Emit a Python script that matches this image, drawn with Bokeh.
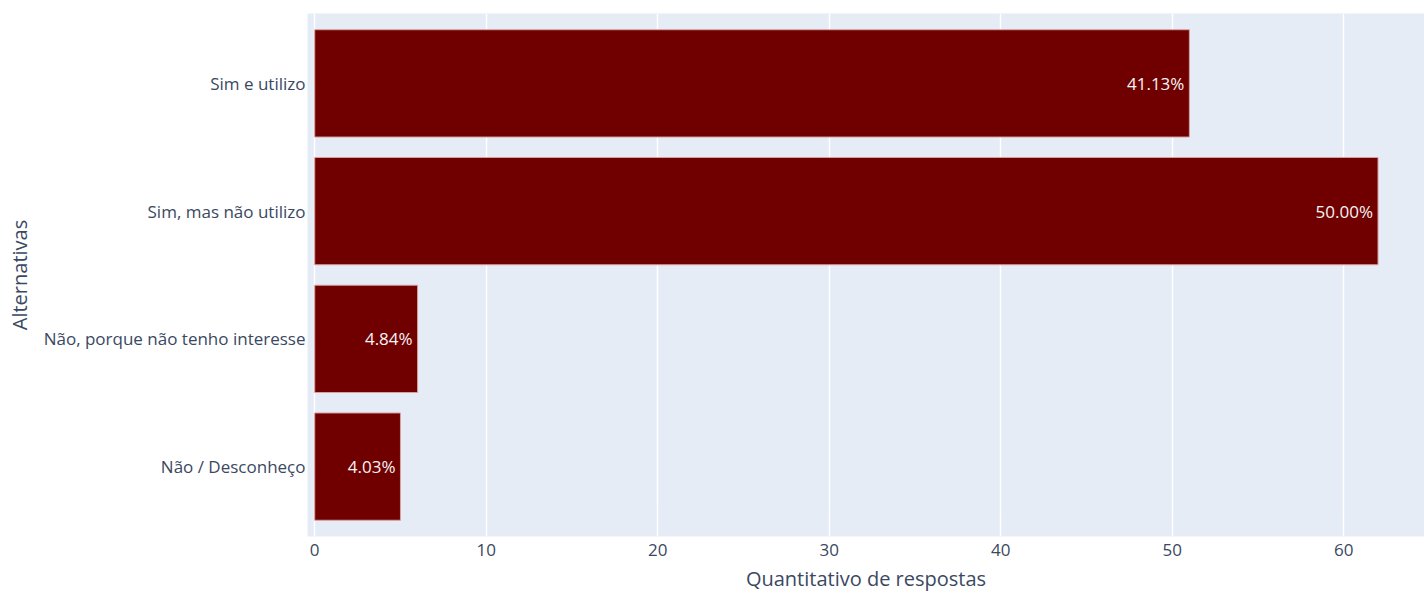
from bokeh.plotting import figure
from bokeh.models import ColumnDataSource, Range1d, FactorRange, FixedTicker
from bokeh.embed import file_html
from bokeh.resources import INLINE
from bokeh.core.properties import value

categories = ["Sim e utilizo", "Sim, mas não utilizo", "Não, porque não tenho interesse", "Não / Desconheço"]
counts = [51, 62, 6, 5]
x_ticks = [0, 10, 20, 30, 40, 50, 60]

total = sum(counts)
labels = ["%.2f%%" % (c / total * 100) for c in counts]

source = ColumnDataSource(dict(cat=categories, val=counts, lab=labels))

FONT = "Open Sans"
TXT = "#3a4862"

p = figure(
    width=1424, height=594,
    y_range=FactorRange(factors=categories[::-1], range_padding=0.0235),
    x_range=Range1d(-0.42, 64.71),
    output_backend="svg", toolbar_location=None,
    min_border_left=307, min_border_right=0, min_border_top=13, min_border_bottom=57,
)
p.background_fill_color = "#E5ECF6"
p.border_fill_color = "white"
p.outline_line_color = None

p.hbar(y="cat", right="val", left=0, height=0.84, source=source,
       fill_color="#700000", line_color="#d9a0a0", line_width=1)

p.text(x="val", y="cat", text="lab", source=source, x_offset=-5,
       text_align="right", text_baseline="middle",
       text_font=value(FONT), text_font_size="17px", text_color="#f4f4f4")

p.xgrid.grid_line_color = "white"
p.xgrid.grid_line_width = 1.5
p.ygrid.grid_line_color = None

p.xaxis.ticker = FixedTicker(ticks=x_ticks)
p.xaxis.axis_line_color = None
p.xaxis.major_tick_line_color = None
p.xaxis.minor_tick_line_color = None
p.xaxis.major_label_standoff = 1
p.xaxis.major_label_text_font = FONT
p.xaxis.major_label_text_font_size = "17px"
p.xaxis.major_label_text_color = TXT
p.xaxis.axis_label = "Quantitativo de respostas"
p.xaxis.axis_label_text_font = FONT
p.xaxis.axis_label_text_font_size = "20px"
p.xaxis.axis_label_text_font_style = "normal"
p.xaxis.axis_label_text_color = TXT
p.xaxis.axis_label_standoff = 6

p.yaxis.axis_line_color = None
p.yaxis.major_tick_line_color = None
p.yaxis.minor_tick_line_color = None
p.yaxis.major_label_standoff = -4
p.yaxis.major_label_text_font = FONT
p.yaxis.major_label_text_font_size = "17px"
p.yaxis.major_label_text_color = TXT
p.yaxis.axis_label = "Alternativas"
p.yaxis.axis_label_text_font = FONT
p.yaxis.axis_label_text_font_size = "20px"
p.yaxis.axis_label_text_font_style = "normal"
p.yaxis.axis_label_text_color = TXT
p.yaxis.axis_label_standoff = 8

open("out.html", "w").write(file_html(p, INLINE))
